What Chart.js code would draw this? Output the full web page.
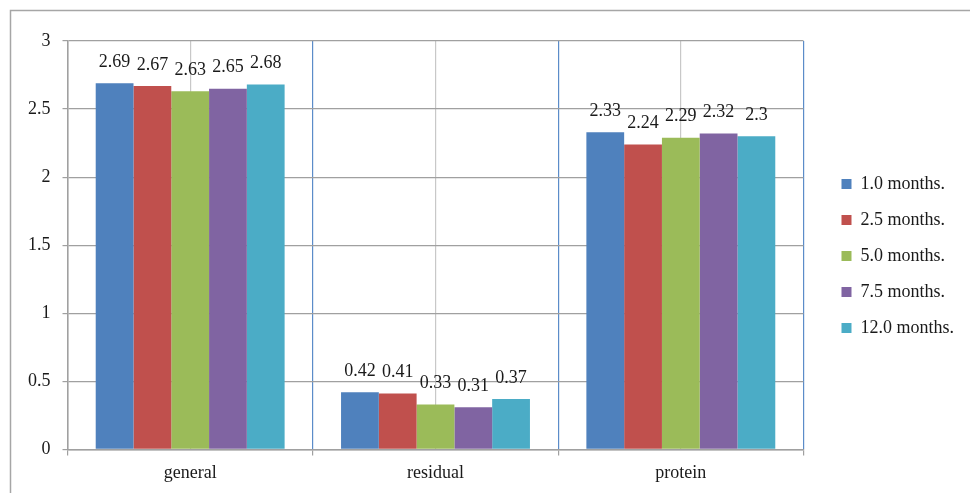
<!DOCTYPE html>
<html>
<head>
<meta charset="utf-8">
<script src="https://cdn.jsdelivr.net/npm/chart.js@4/dist/chart.umd.min.js"></script>
<style>
  html, body { margin: 0; padding: 0; background: #ffffff; }
  #wrap { position: relative; width: 970px; height: 493px; }
</style>
</head>
<body>
<div id="wrap"><canvas id="chart" width="970" height="493"></canvas></div>
<script>
// Categories and series
const categories = ['general', 'residual', 'protein'];
const seriesNames = ['1.0 months.', '2.5 months.', '5.0 months.', '7.5 months.', '12.0 months.'];
const months1_0  = [2.69, 0.42, 2.33];
const months2_5  = [2.67, 0.41, 2.24];
const months5_0  = [2.63, 0.33, 2.29];
const months7_5  = [2.65, 0.31, 2.32];
const months12_0 = [2.68, 0.37, 2.30];
const seriesColors = ['#4f81bd', '#c0504d', '#9bbb59', '#8064a2', '#4bacc6'];

const FONT = '"Liberation Serif", "Times New Roman", serif';
const seriesValues = [months1_0, months2_5, months5_0, months7_5, months12_0];

// Gray frame around the whole chart
const framePlugin = {
  id: 'frame',
  beforeDraw(chart) {
    const c = chart.ctx;
    c.save();
    c.strokeStyle = '#a6a6a6';
    c.lineWidth = 1.5;
    c.beginPath();
    c.moveTo(10.5, chart.height);
    c.lineTo(10.5, 10.5);
    c.lineTo(chart.width, 10.5);
    c.stroke();
    c.restore();
  }
};

// Nudge the legend block a little away from the plot area
const legendOffset = {
  id: 'legendOffset',
  afterLayout(chart) {
    const lg = chart.legend;
    if (!lg) return;
    lg.left += 20; lg.right += 20;
    lg.top -= 10; lg.bottom -= 10;
  }
};

// Value labels above each bar
const valueLabels = {
  id: 'valueLabels',
  afterDatasetsDraw(chart) {
    const c = chart.ctx;
    c.save();
    c.font = '18px ' + FONT;
    c.fillStyle = '#1a1a1a';
    c.textAlign = 'center';
    c.textBaseline = 'middle';
    chart.data.datasets.forEach((ds, di) => {
      const meta = chart.getDatasetMeta(di);
      meta.data.forEach((bar, i) => {
        c.fillText(String(ds.data[i]), bar.x, bar.y - 21);
      });
    });
    c.restore();
  }
};

new Chart(document.getElementById('chart'), {
  type: 'bar',
  data: {
    labels: categories,
    datasets: seriesNames.map((name, i) => ({
      label: name,
      data: seriesValues[i],
      backgroundColor: seriesColors[i],
      borderWidth: 0,
      categoryPercentage: 0.77,
      barPercentage: 1.0
    }))
  },
  options: {
    responsive: false,
    animation: false,
    devicePixelRatio: 1,
    layout: { padding: { left: 16, top: 41, right: 26, bottom: 2 } },
    plugins: {
      legend: {
        position: 'right',
        labels: {
          boxWidth: 10,
          boxHeight: 10,
          padding: 18,
          color: '#1a1a1a',
          font: { family: FONT, size: 18 }
        }
      },
      tooltip: { enabled: false }
    },
    scales: {
      x: {
        offset: true,
        grid: {
          offset: true,
          color: (ctx) => ctx.index === 0 ? '#a0a0a0' : '#5b8cc9',
          tickColor: '#a0a0a0',
          tickLength: 6,
          lineWidth: 1.2
        },
        border: { color: '#a0a0a0', width: 1.5 },
        ticks: { color: '#1a1a1a', font: { family: FONT, size: 18 }, padding: 7 }
      },
      x2: {
        type: 'category',
        labels: categories,
        offset: true,
        position: 'bottom',
        grid: { offset: false, color: '#c8c8c8', drawTicks: false, lineWidth: 1.2 },
        ticks: { display: false },
        border: { display: false }
      },
      y: {
        min: 0,
        max: 3,
        ticks: {
          stepSize: 0.5,
          color: '#1a1a1a',
          font: { family: FONT, size: 18 },
          padding: 12,
          callback: (v) => String(Number(v))
        },
        grid: { color: '#a0a0a0', tickColor: '#a0a0a0', tickLength: 5, lineWidth: 1.2 },
        border: { color: '#a0a0a0', width: 1.5 }
      }
    }
  },
  plugins: [framePlugin, legendOffset, valueLabels]
});
</script>
</body>
</html>
